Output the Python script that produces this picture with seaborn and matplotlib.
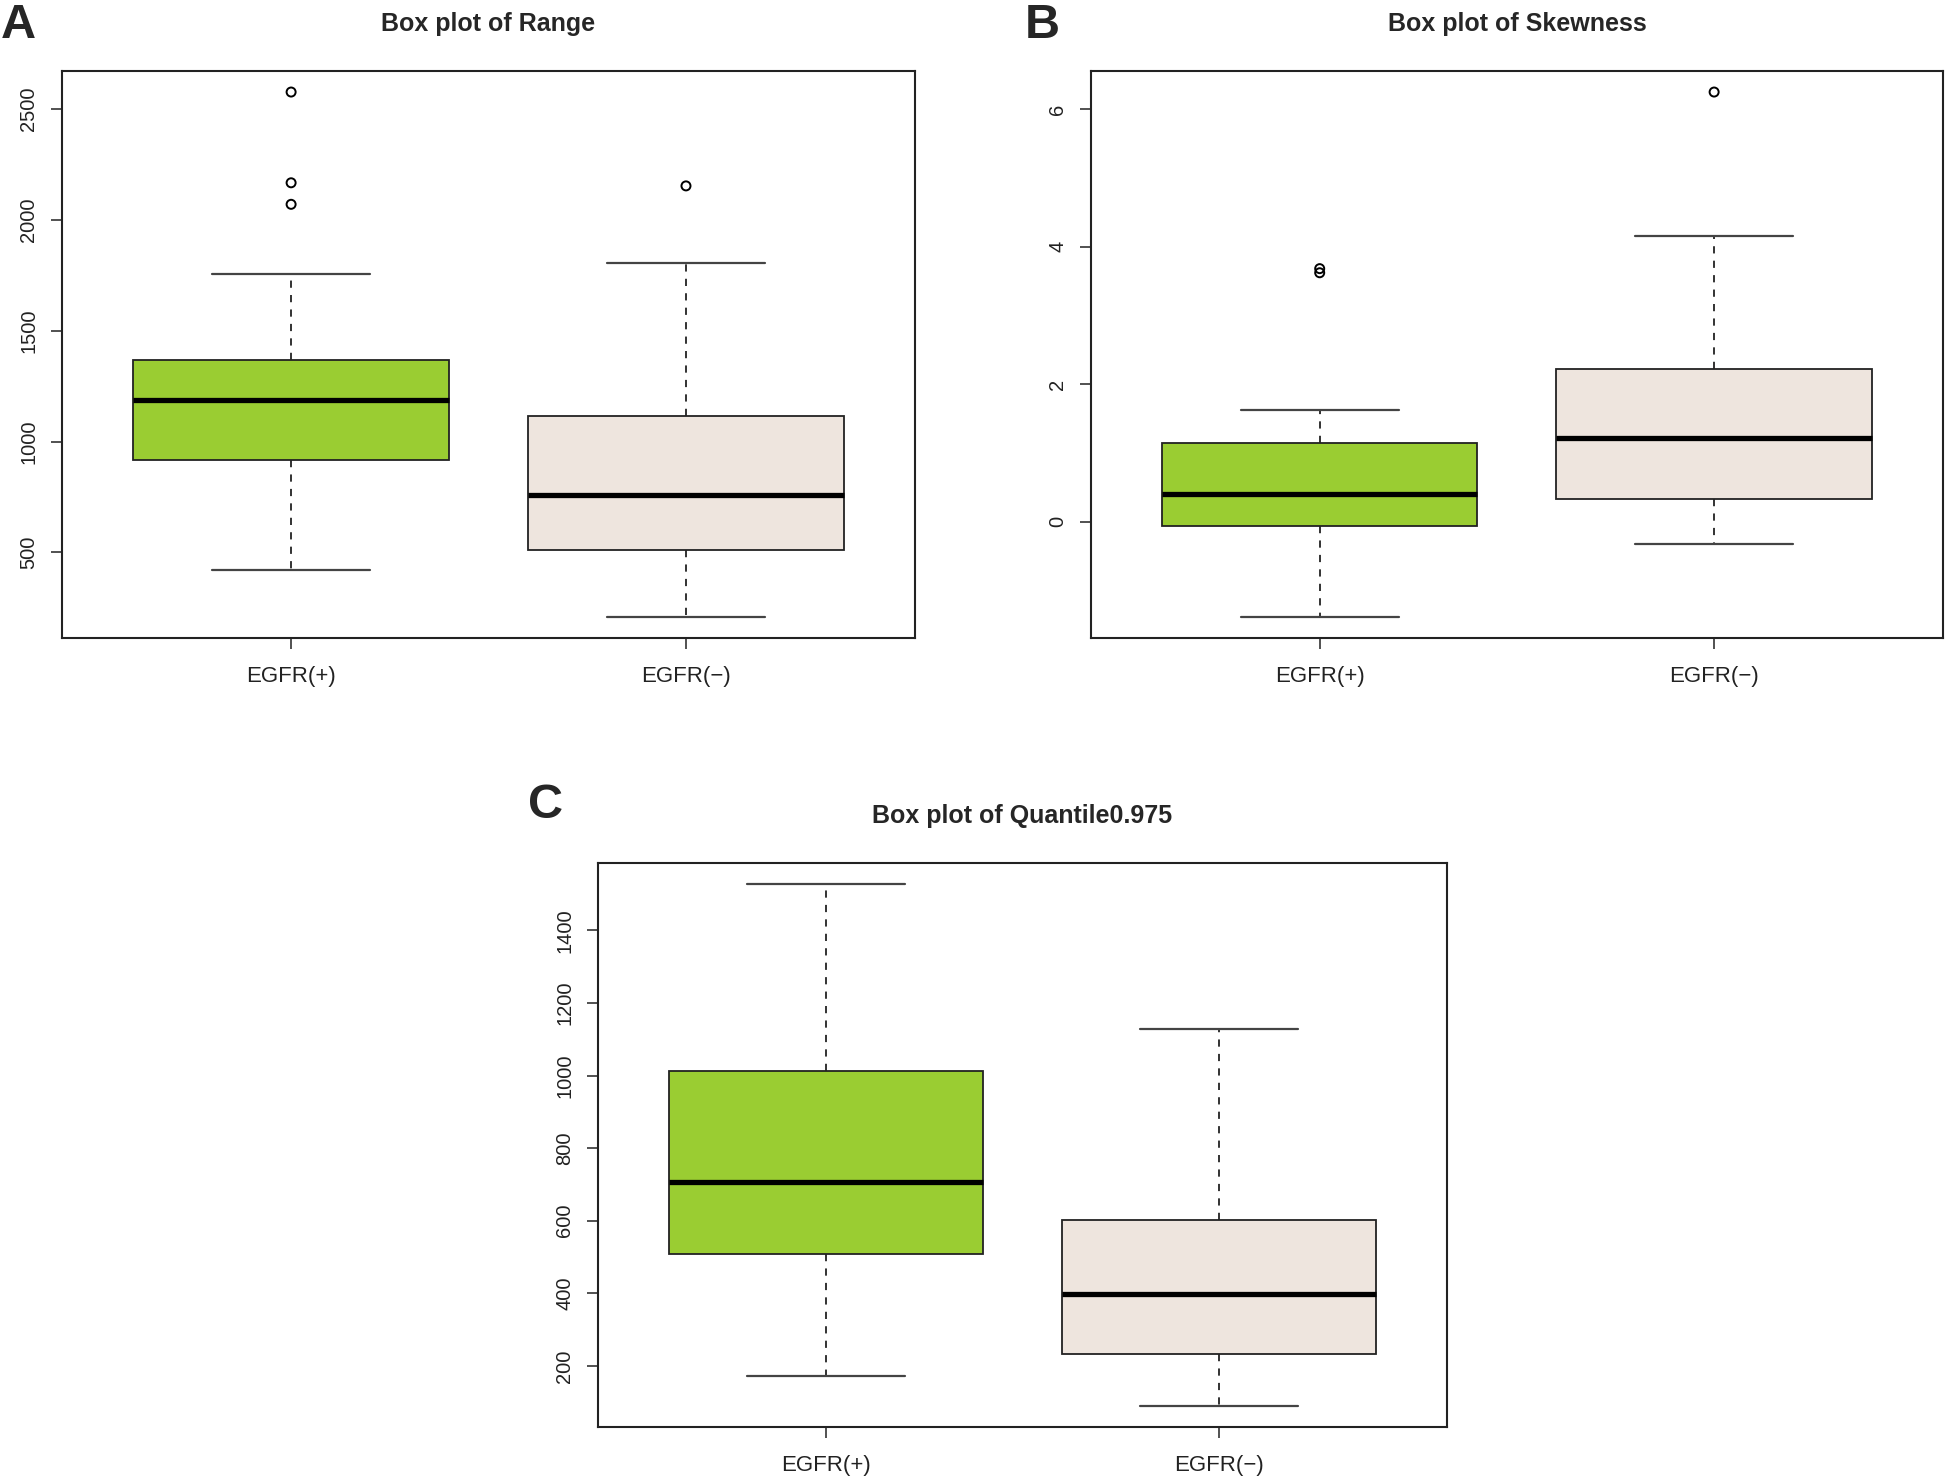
import numpy as np
import pandas as pd
import seaborn as sns
import matplotlib.pyplot as plt

groups = ["EGFR(+)", "EGFR(\u2212)"]
palette = {"EGFR(+)": "#9ACD32", "EGFR(\u2212)": "#EEE5DE"}

# five number summaries: low whisker, Q1, median, Q3, high whisker
range_pos = [423, 917, 1186, 1368, 1754]
range_neg = [209, 512, 759, 1115, 1803]
range_pos_out = [2575, 2166, 2069]
range_neg_out = [2152]
range_ticks = [500, 1000, 1500, 2000, 2500]

skew_pos = [-1.39, -0.06, 0.40, 1.14, 1.625]
skew_neg = [-0.333, 0.333, 1.22, 2.226, 4.16]
skew_pos_out = [3.68, 3.62]
skew_neg_out = [6.25]
skew_ticks = [0, 2, 4, 6]

q975_pos = [173, 508, 706, 1013, 1528]
q975_neg = [89, 233, 397, 601, 1129]
q975_pos_out = []
q975_neg_out = []
q975_ticks = [200, 400, 600, 800, 1000, 1200, 1400]


def plot_panel(ax, pos, neg, pos_out, neg_out, title, yticks):
    df = pd.DataFrame({
        "group": [groups[0]] * len(pos) + [groups[1]] * len(neg),
        "value": pos + neg,
    })
    sns.boxplot(data=df, x="group", y="value", hue="group", order=groups,
                hue_order=groups, palette=palette, saturation=1, width=0.8,
                whis=(0, 100), linecolor="#222222", linewidth=1.3,
                medianprops=dict(color="black", linewidth=3.8),
                whiskerprops=dict(linestyle=(0, (4, 4)), color="#222222"),
                capprops=dict(color="#444444", linewidth=1.6),
                legend=False, ax=ax)

    out = pd.DataFrame({
        "group": [groups[0]] * len(pos_out) + [groups[1]] * len(neg_out),
        "value": pos_out + neg_out,
    })
    if len(out):
        sns.stripplot(data=out, x="group", y="value", order=groups,
                      jitter=False, color="black", facecolor="none",
                      edgecolor="black", linewidth=1.4, size=6.5, ax=ax)

    # R style axis extents (4% padding)
    allv = np.array(pos + neg + pos_out + neg_out, dtype=float)
    lo, hi = allv.min(), allv.max()
    pad = 0.04 * (hi - lo)
    ax.set_ylim(lo - pad, hi + pad)
    ax.set_xlim(-0.58, 1.58)
    ax.set_yticks(yticks)
    ax.set_xlabel("")
    ax.set_ylabel("")
    ax.set_title(title, fontsize=18, fontweight="bold", pad=29)
    ax.tick_params(axis="x", length=8, width=1.2, color="#333333",
                   labelsize=16, labelcolor="#222222", pad=12)
    ax.tick_params(axis="y", length=8, width=1.2, color="#333333",
                   labelsize=14.5, labelcolor="#222222", pad=9,
                   labelrotation=90)
    for lbl in ax.get_yticklabels():
        lbl.set_va("center")
    for sp in ax.spines.values():
        sp.set_visible(True)
        sp.set_color("#222222")
        sp.set_linewidth(1.5)


if __name__ == "__main__":
    sns.set_theme(style="ticks")
    plt.rcParams["font.family"] = ["Liberation Sans", "DejaVu Sans"]

    fig = plt.figure(figsize=(19.46, 14.80), dpi=100)
    ax_a = fig.add_axes([0.0319, 0.5689, 0.4383, 0.3831])
    ax_b = fig.add_axes([0.5606, 0.5689, 0.4378, 0.3831])
    ax_c = fig.add_axes([0.3073, 0.0358, 0.4363, 0.3811])

    plot_panel(ax_a, range_pos, range_neg, range_pos_out, range_neg_out,
               "Box plot of Range", range_ticks)
    plot_panel(ax_b, skew_pos, skew_neg, skew_pos_out, skew_neg_out,
               "Box plot of Skewness", skew_ticks)
    plot_panel(ax_c, q975_pos, q975_neg, q975_pos_out, q975_neg_out,
               "Box plot of Quantile0.975", q975_ticks)

    for letter, x, y in [("A", 18, 38), ("B", 1042, 38), ("C", 546, 818)]:
        fig.text(x / 1946, 1 - y / 1480, letter, ha="center", va="baseline",
                 fontsize=35, fontweight="bold")

    fig.savefig("out.png", dpi=100)
